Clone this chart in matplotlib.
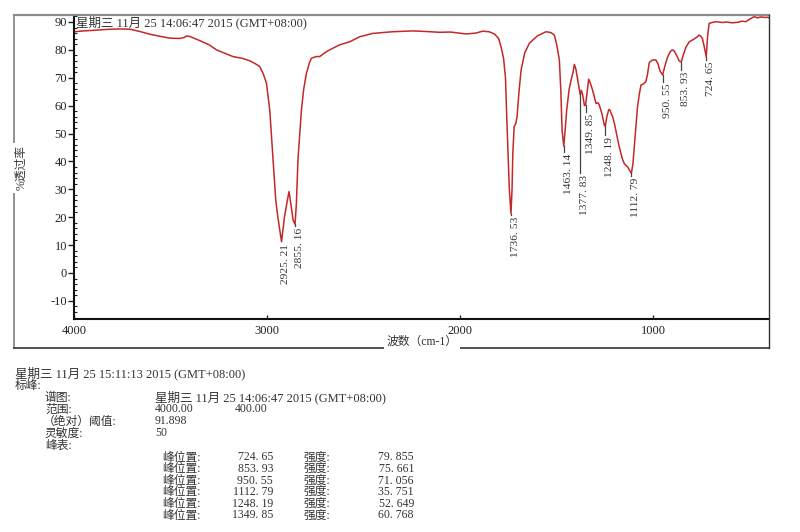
import matplotlib
matplotlib.use("Agg")
import matplotlib.pyplot as plt
from matplotlib.lines import Line2D
from matplotlib.ticker import MultipleLocator

plt.rcParams['font.family'] = ['Liberation Serif', 'Noto Sans CJK SC', 'DejaVu Sans']
plt.rcParams['axes.unicode_minus'] = False

# ---------------- data ----------------
wavenumber = [4000, 3950, 3900, 3814, 3760, 3710, 3660, 3607, 3550, 3503, 3452, 3430, 3417, 3400,
              3348, 3300, 3262, 3220, 3177, 3130, 3090, 3060, 3038, 3020, 3003, 2986, 2969, 2955,
              2945, 2925, 2910, 2895, 2886, 2875, 2865, 2855, 2848, 2840, 2822, 2810, 2796, 2780,
              2770, 2745, 2727, 2700, 2676, 2624, 2572, 2520, 2452, 2350, 2245, 2180, 2107, 2050,
              1969, 1920, 1883, 1850, 1822, 1800, 1788, 1775, 1765, 1758, 1745, 1736.5, 1731, 1727,
              1720, 1712, 1705, 1695, 1684, 1665, 1641, 1600, 1555, 1530, 1512, 1500, 1486, 1478,
              1472, 1463, 1455, 1448, 1435, 1425, 1415, 1408, 1400, 1391, 1383, 1378, 1372, 1365,
              1356, 1350, 1342, 1334, 1325, 1314, 1296, 1285, 1279, 1265, 1253, 1248, 1240, 1230,
              1224, 1210, 1201, 1190, 1176, 1160, 1150, 1140, 1133, 1120, 1113, 1105, 1098, 1090,
              1081, 1072, 1063, 1050, 1038, 1030, 1020, 1005, 995, 986, 975, 965, 951, 940, 925,
              910, 900, 890, 875, 865, 854, 845, 830, 813, 790, 775, 762, 752, 745, 735, 725, 718,
              710, 695, 675, 640, 620, 591, 560, 540, 520, 500, 477, 460, 440, 420, 408, 400]
transmittance = [86.5, 86.8, 87.0, 87.4, 87.5, 87.4, 86.6, 85.6, 84.8, 84.2, 84.1, 84.4, 85.0, 84.8,
                 83.3, 81.8, 80.0, 78.8, 77.6, 77.0, 76.1, 75.0, 74.0, 71.5, 68.0, 58.4, 40.5, 26.2,
                 20.5, 11.2, 20.0, 26.0, 29.2, 24.0, 19.0, 17.5, 25.0, 40.5, 58.4, 66.0, 71.6, 75.5,
                 77.0, 77.6, 77.6, 79.0, 80.0, 81.8, 82.9, 84.7, 85.9, 86.5, 86.8, 86.6, 86.3, 86.4,
                 85.7, 86.0, 86.7, 86.5, 85.7, 84.0, 81.1, 77.0, 70.0, 55.0, 30.0, 21.3, 30.0, 42.9,
                 52.5, 53.5, 56.0, 65.0, 72.8, 79.0, 82.4, 85.0, 86.5, 86.2, 85.3, 82.0, 76.4, 65.0,
                 51.3, 45.5, 52.0, 58.4, 66.0, 69.2, 72.0, 74.8, 73.0, 69.2, 66.0, 64.0, 65.5, 63.8,
                 60.0, 60.3, 65.0, 69.5, 68.0, 65.6, 60.8, 61.0, 60.2, 57.0, 53.0, 52.6, 56.0, 58.6,
                 58.4, 56.0, 53.7, 50.0, 45.3, 41.0, 39.3, 38.5, 38.1, 36.5, 35.75, 39.0, 45.3, 52.0,
                 59.6, 64.0, 67.4, 67.8, 68.6, 71.0, 75.5, 76.3, 76.4, 76.4, 75.0, 72.5, 71.0, 74.0, 77.5,
                 79.5, 80.0, 79.5, 77.5, 76.0, 75.7, 78.0, 81.0, 82.9, 83.8, 84.5, 85.3, 84.8, 84.1, 81.0, 77.5, 85.0,
                 89.5, 89.8, 90.1, 89.8, 90.0, 89.7, 89.9, 90.3, 90.1, 91.0, 91.9, 91.5, 91.8, 91.6, 91.7, 91.5]

peak_wn = [2925.21, 2855.16, 1736.53, 1463.14, 1377.83, 1349.85, 1248.19, 1112.79, 950.55, 853.93, 724.65]
peak_curve_T = [11.2, 17.5, 21.3, 45.5, 64.0, 60.3, 52.6, 35.75, 71.0, 75.7, 77.5]
peak_labels = ["2925. 21", "2855. 16", "1736. 53", "1463. 14", "1377. 83", "1349. 85",
               "1248. 19", "1112. 79", "950. 55", "853. 93", "724. 65"]
leader_end_T = [11.0, 17.0, 20.8, 43.4, 35.9, 57.7, 49.5, 34.8, 68.5, 72.8, 76.4]

table_pos = ["724. 65", "853. 93", "950. 55", "1112. 79", "1248. 19", "1349. 85"]
table_int = ["79. 855", "75. 661", "71. 056", "35. 751", "52. 649", "60. 768"]

title_time = "星期三 11月 25 14:06:47 2015 (GMT+08:00)"
report_time = "星期三 11月 25 15:11:13 2015 (GMT+08:00)"

# ---------------- figure ----------------
W, H = 800, 532
fig = plt.figure(figsize=(8, 5.32), dpi=100)


def fx(x):
    return x / W


def fy(y):
    return 1 - y / H


ax = fig.add_axes([fx(74), fy(319.3), fx(769) - fx(74), fy(15) - fy(319.3)])
ax.plot(wavenumber, transmittance, color='#c42828', lw=1.1, solid_joinstyle='round')
ax.set_xlim(4000, 400)
ax.set_ylim(-16.6, 92.5)

ax.xaxis.set_major_locator(MultipleLocator(1000))
ax.yaxis.set_major_locator(MultipleLocator(10))
ax.yaxis.set_minor_locator(MultipleLocator(2))
ax.tick_params(axis='y', which='major', direction='out', length=4, width=1, pad=1,
               labelsize=9, colors='#222222')
ax.tick_params(axis='y', which='minor', direction='in', length=2.5, width=0.8, color='#222222')
ax.tick_params(axis='x', which='major', direction='in', length=3, width=1, pad=4,
               labelsize=9, colors='#222222')
for s in ['top', 'right']:
    ax.spines[s].set_visible(False)
for s in ['left', 'bottom']:
    ax.spines[s].set_linewidth(1.5)
    ax.spines[s].set_color('#111111')

# peak markers
for w, tcv, te, lab in zip(peak_wn, peak_curve_T, leader_end_T, peak_labels):
    ax.plot([w, w], [tcv, te], color='#444444', lw=0.9)
    ax.text(w, te - 0.6, lab, rotation=90, ha='left', va='top', fontsize=8.2, color='#333333')

ax.text(fx(76), fy(22), title_time, transform=fig.transFigure, ha='left', va='center',
        fontsize=9, color='#333333')

# outer frame
fig.add_artist(Line2D([fx(14), fx(769)], [fy(15), fy(15)], color='#8a8a8a', lw=1.6,
                      transform=fig.transFigure))
fig.add_artist(Line2D([fx(769), fx(769)], [fy(15), fy(347.5)], color='#333333', lw=1.0,
                      transform=fig.transFigure))
fig.add_artist(Line2D([fx(14), fx(14)], [fy(15), fy(347.5)], color='#8a8a8a', lw=1.3,
                      transform=fig.transFigure))
fig.add_artist(Line2D([fx(14), fx(769)], [fy(347.5), fy(347.5)], color='#333333', lw=1.2,
                      transform=fig.transFigure))

fig.text(fx(21), fy(168), "%透过率", rotation=90, ha='center', va='center', fontsize=8.5,
         color='#333333', bbox=dict(facecolor='white', edgecolor='none', pad=1.5))
fig.text(fx(422), fy(342), "波数（cm-1）", ha='center', va='center', fontsize=8.5,
         color='#333333', bbox=dict(facecolor='white', edgecolor='none', pad=1.5))

# report text block
fs = 8.5
tc = '#333333'
fig.text(fx(15), fy(373), report_time, ha='left', va='center', fontsize=9, color=tc)
fig.text(fx(15), fy(385.5), "标峰:", ha='left', va='center', fontsize=fs, color=tc)
rows = [("谱图:", title_time, None, 397.5),
        ("范围:", "4000.00", "400.00", 409.5),
        ("（绝对）阈值:", "91.898", None, 421.5),
        ("灵敏度:", "50", None, 433.5),
        ("峰表:", None, None, 445.5)]
for lab, v1, v2, y in rows:
    xl = 43 if lab.startswith("（") else 45
    fig.text(fx(xl), fy(y), lab, ha='left', va='center', fontsize=fs, color=tc)
    if v1:
        fig.text(fx(155), fy(y), v1, ha='left', va='center',
                 fontsize=9 if len(v1) > 20 else fs, color=tc)
    if v2:
        fig.text(fx(235), fy(y), v2, ha='left', va='center', fontsize=fs, color=tc)

for i, (p, it) in enumerate(zip(table_pos, table_int)):
    y = 457.5 + i * 11.6
    fig.text(fx(162), fy(y), "峰位置:", ha='left', va='center', fontsize=fs, color=tc)
    fig.text(fx(273), fy(y), p, ha='right', va='center', fontsize=fs, color=tc)
    fig.text(fx(303), fy(y), "强度:", ha='left', va='center', fontsize=fs, color=tc)
    fig.text(fx(414), fy(y), it, ha='right', va='center', fontsize=fs, color=tc)

fig.savefig("out.png", dpi=100, facecolor='white')
